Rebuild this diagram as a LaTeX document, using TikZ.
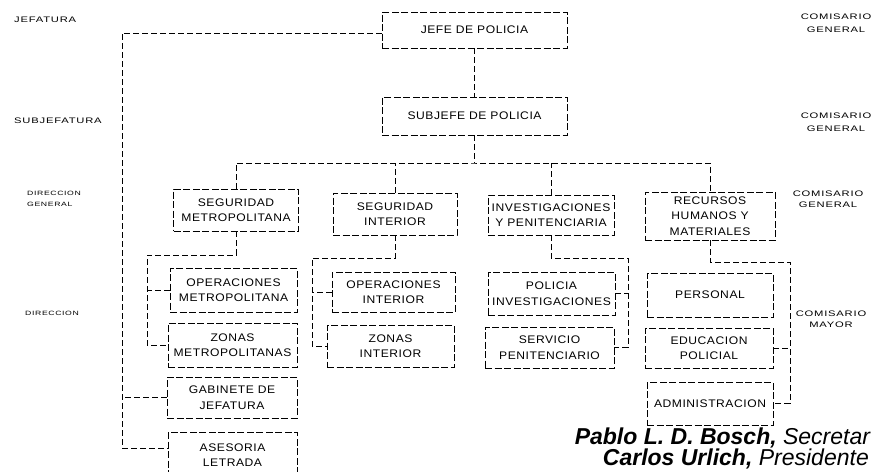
\documentclass[tikz,border=0pt]{standalone}
\usepackage{fontspec}
\setmainfont{Liberation Sans}
\newfontfamily\boxfont[FakeStretch=1.1,LetterSpace=5]{Liberation Sans}
\newfontfamily\sidefont[FakeStretch=1.4,LetterSpace=10]{Liberation Sans}
\newfontfamily\sigfont{Liberation Sans}
\begin{document}
\begin{tikzpicture}[x=1pt,y=-1pt,
  orgbox/.style={draw, dash pattern=on 7pt off 2.5pt, line width=0.8pt, inner sep=0pt,
    align=center, font=\boxfont\fontsize{11}{15.5}\selectfont},
  conn/.style={draw, dash pattern=on 6pt off 3pt, line width=0.8pt},
  sidelab/.style={inner sep=0pt, align=center, font=\sidefont\fontsize{8}{13}\selectfont},
  smallside/.style={inner sep=0pt, align=left, font=\sidefont\fontsize{6.2}{11}\selectfont}]
\fill[white] (0,0) rectangle (872,471);
\useasboundingbox (0,0) rectangle (872,471);

% side labels
\node[sidelab, anchor=west] (lj) at (14,20) {JEFATURA};
\node[sidelab, anchor=west] (ls) at (14,121) {SUBJEFATURA};
\node[smallside, anchor=west] (ldg) at (27,199) {DIRECCION\\GENERAL};
\node[smallside, anchor=west] (ld) at (25,313) {DIRECCION};
\node[sidelab] (rc1) at (836,23) {COMISARIO\\GENERAL};
\node[sidelab] (rc2) at (836,122) {COMISARIO\\GENERAL};
\node[sidelab, font=\sidefont\fontsize{8}{11}\selectfont] (rc3) at (828,199) {COMISARIO\\GENERAL};
\node[sidelab, font=\sidefont\fontsize{8}{11}\selectfont] (rc4) at (831,319) {COMISARIO\\MAYOR};

% boxes
\node[orgbox, minimum width=185, minimum height=36] (jefe) at (474.5,30) {JEFE DE POLICIA};
\node[orgbox, minimum width=185, minimum height=38] (subjefe) at (474.5,116) {SUBJEFE DE POLICIA};

\node[orgbox, minimum width=125, minimum height=42] (segm) at (236,210) {SEGURIDAD\\METROPOLITANA};
\node[orgbox, minimum width=124, minimum height=42] (segi) at (395,214) {SEGURIDAD\\INTERIOR};
\node[orgbox, minimum width=126, minimum height=40] (inv) at (551,215) {INVESTIGACIONES\\Y PENITENCIARIA};
\node[orgbox, minimum width=130, minimum height=48] (recur) at (710,216) {RECURSOS\\HUMANOS Y\\MATERIALES};

\node[orgbox, minimum width=127, minimum height=44] (opm) at (233.5,290) {OPERACIONES\\METROPOLITANA};
\node[orgbox, minimum width=129, minimum height=44] (zonm) at (232.5,345) {ZONAS\\METROPOLITANAS};
\node[orgbox, minimum width=130, minimum height=41] (gab) at (232,397.5) {GABINETE DE\\JEFATURA};
\node[orgbox, minimum width=129, minimum height=46] (ases) at (232.5,455) {ASESORIA\\LETRADA};

\node[orgbox, minimum width=123, minimum height=40] (opi) at (393.5,292) {OPERACIONES\\INTERIOR};
\node[orgbox, minimum width=127, minimum height=42] (zoni) at (390.5,346) {ZONAS\\INTERIOR};

\node[orgbox, minimum width=127, minimum height=43] (pol) at (551.5,293.5) {POLICIA\\INVESTIGACIONES};
\node[orgbox, minimum width=129, minimum height=41] (serv) at (549.5,347.5) {SERVICIO\\PENITENCIARIO};

\node[orgbox, minimum width=126, minimum height=44] (pers) at (710,295) {PERSONAL};
\node[orgbox, minimum width=128, minimum height=40] (edu) at (709,348) {EDUCACION\\POLICIAL};
\node[orgbox, minimum width=126, minimum height=43] (adm) at (710,403.5) {ADMINISTRACION};

% coordinates
\coordinate (lt) at (122,33);
\coordinate (bus) at (474.5,163);
\coordinate (m1) at (147,255);
\coordinate (i1) at (312,258);
\coordinate (v1) at (628,258);
\coordinate (r1) at (790,262);

% connectors
\draw[conn] (jefe.south) -- (subjefe.north);
\draw[conn] (jefe.west |- lt) -- (lt) |- ([yshift=7pt]ases.west);
\draw[conn] (gab.west) -- (gab.west -| lt);

\draw[conn] (subjefe.south) -- (bus);
\draw[conn] (segm.north) |- (bus) -| (recur.north);
\draw[conn] (segi.north) -- (segi.north |- bus);
\draw[conn] (inv.north) -- (inv.north |- bus);

\draw[conn] (segm.south) |- (m1) |- (zonm.west);
\draw[conn] (opm.west) -- (opm.west -| m1);

\draw[conn] (segi.south) |- (i1) |- (zoni.west);
\draw[conn] (opi.west) -- (opi.west -| i1);

\draw[conn] (inv.south) |- (v1) |- (serv.east);
\draw[conn] (pol.east) -- (pol.east -| v1);

\draw[conn] (recur.south) |- (r1) |- (adm.east);
\draw[conn] (edu.east) -- (edu.east -| r1);

% signature
\node[inner sep=0pt, anchor=base east, font=\sigfont\fontsize{23}{23}\selectfont] (sig1) at (871,444) {\textbf{\textit{Pablo L. D. Bosch,}} \textit{Secretar}};
\node[inner sep=0pt, anchor=base east, font=\sigfont\fontsize{23}{23}\selectfont] (sig2) at (869,465) {\textbf{\textit{Carlos Urlich,}} \textit{Presidente}};
\end{tikzpicture}
\end{document}
